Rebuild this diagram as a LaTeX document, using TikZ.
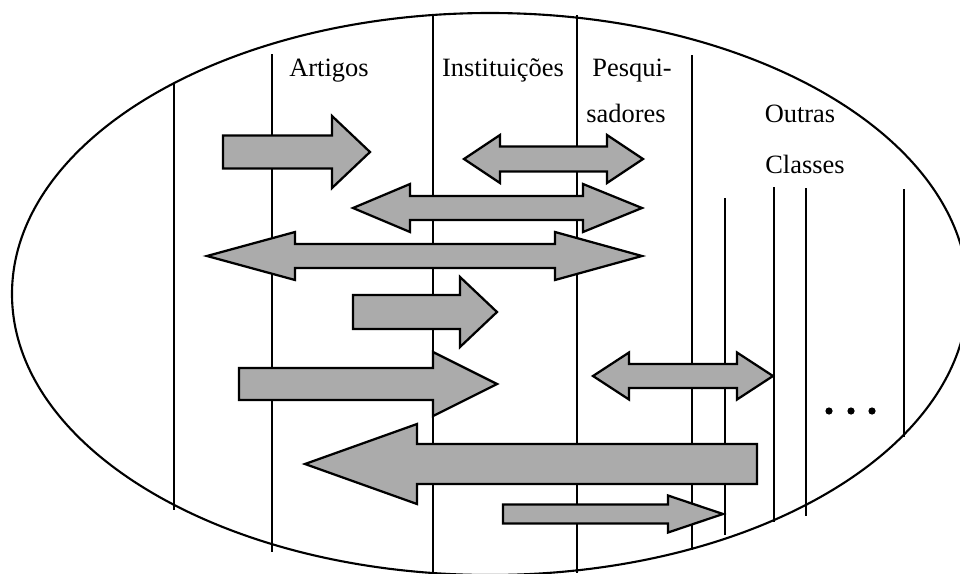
\documentclass[tikz,border=0pt]{standalone}
\usepackage{fontspec}
\setmainfont{Liberation Serif}
\usetikzlibrary{positioning}

\tikzset{
  classline/.style={line width=1.6pt},
  blockarrow/.style={draw, line width=1.6pt, line join=miter, fill=black!33},
  classname/.style={anchor=base, inner sep=0pt}
}

\begin{document}
\begin{tikzpicture}[x=0.025cm, y=-0.025cm, font=\fontsize{18.8}{22}\selectfont]
    \useasboundingbox (0,0) rectangle (960,573);
    \clip (0,0) rectangle (960,573);
    \draw[line width=1.5pt] (490,294) ellipse [x radius=478, y radius=281];
    % class borders
    \foreach \x/\a/\b in {174/83/510, 272/54/552, 433/16/573, 577/15/573, 692/55/550,
                          725/198/535, 774/187/522, 806/188/516, 904/189/437} {
      \draw[classline] (\x,\a) -- (\x,\b);
    }
    % class names
    \node[classname] (artigos) at (329,76) {Artigos};
    \node[classname] (inst) at (503,76) {Instituições};
    \node[classname] (pesq) at (632,76) {Pesqui-};
    \node[classname] (sad) at (626,122) {sadores};
    \node[classname] (outras) at (800,122) {Outras};
    \node[classname] (classes) at (805,173) {Classes};
    % one-way arrows to the right
    \foreach \xa/\xb/\xc/\y/\h/\H in {223/332/370/152/16.5/36, 353/460/497/312/17/35,
                                      239/433/497/384/16/32, 503/668/723/514/9.5/18.5} {
      \draw[blockarrow] (\xa,\y-\h) -- (\xb,\y-\h) -- (\xb,\y-\H) -- (\xc,\y)
        -- (\xb,\y+\H) -- (\xb,\y+\h) -- (\xa,\y+\h) -- cycle;
    }
    % two-way arrows
    \foreach \xa/\xb/\xc/\xd/\y/\h/\H in {464/500/607/643/159/12.5/24, 353/410/583/642/208/12/24,
                                          207/295/555/642/256/12/24, 593/629/737/773/376/12/23.5} {
      \draw[blockarrow] (\xa,\y) -- (\xb,\y-\H) -- (\xb,\y-\h) -- (\xc,\y-\h) -- (\xc,\y-\H)
        -- (\xd,\y) -- (\xc,\y+\H) -- (\xc,\y+\h) -- (\xb,\y+\h) -- (\xb,\y+\H) -- cycle;
    }
    % big arrow to the left
    \draw[blockarrow] (305,464) -- (417,424) -- (417,444) -- (757,444) -- (757,484)
      -- (417,484) -- (417,504) -- cycle;
    % more classes
    \foreach \x in {829,851,872} {
      \fill (\x,411) circle [radius=3.6];
    }
  \end{tikzpicture}
\end{document}
